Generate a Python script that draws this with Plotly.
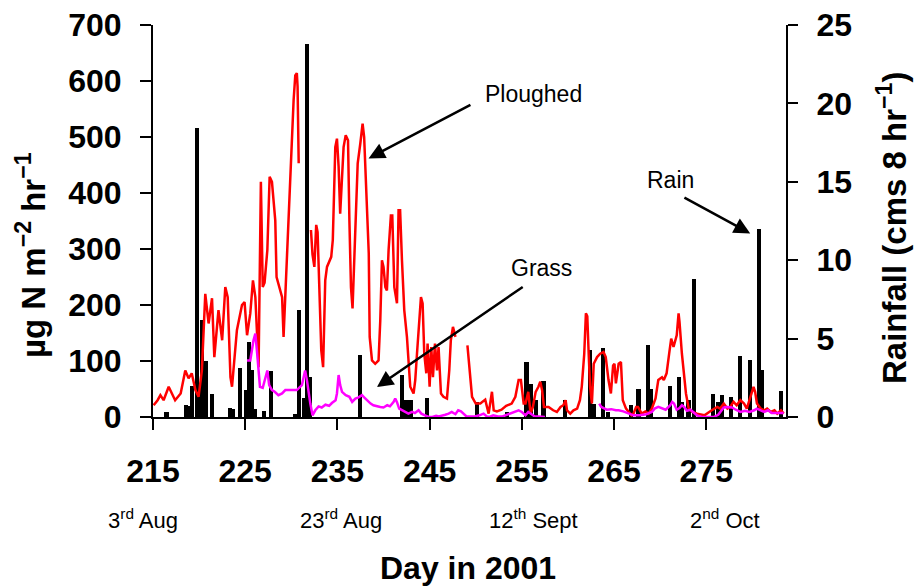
import plotly.graph_objects as go

# ---------------- data ----------------
ploughed_day = [215.07, 215.5, 215.8, 216.15, 216.7, 217.0, 217.4, 218.0, 218.5, 218.86, 219.2, 219.6, 219.94,
                220.3, 220.67, 221.03, 221.4, 221.65, 222.1, 222.5, 222.84, 223.1, 223.4, 223.57, 224.1, 224.65,
                224.93, 225.2, 225.55, 225.84, 226.1, 226.45, 226.7, 226.9, 227.1, 227.4, 227.65, 227.9, 228.26,
                228.4, 228.8, 229.0, 229.16, 229.35, 229.5, 229.9, 230.07, 230.25, 230.43, 230.6, 230.68, 230.8,
                231.5,
                232.13, 232.3, 232.5, 232.7, 232.85, 233.07, 233.25, 233.45, 233.68, 233.87, 234.33, 234.5, 234.77,
                234.95, 235.13, 235.3, 235.5, 235.67, 235.9, 236.15, 236.3, 236.47, 236.64, 236.94, 237.2, 237.48,
                237.73, 237.9, 238.13, 238.4, 238.5, 238.75, 239.1, 239.46, 239.65, 239.83, 240.0, 240.2, 240.37,
                240.55, 240.8, 240.95, 241.17, 241.46, 241.63, 241.8, 242.0, 242.25, 242.54, 242.9, 243.26, 243.44,
                243.63, 243.9, 244.06, 244.24, 244.42, 244.64, 244.78, 245.0, 245.18, 245.36, 245.58, 245.8, 245.97,
                246.23, 246.5, 246.88, 247.13, 247.3, 247.53, 247.8,
                248.5,
                249.1, 249.6, 250.0, 250.5, 251.03, 251.4, 251.76, 251.95, 252.3, 252.8, 253.3, 253.9, 254.3, 254.65,
                254.9, 255.2, 255.4, 255.7, 255.95, 256.2, 256.5, 256.8, 257.0, 257.2, 257.4, 257.9, 258.4, 258.8,
                259.2, 259.5, 259.75, 259.9, 260.25, 260.6, 261.0, 261.3, 261.5, 261.77, 261.95, 262.1, 262.25,
                262.4, 262.6, 262.8, 263.16, 263.5, 263.86, 264.1, 264.4, 264.66, 264.9, 265.05, 265.2, 265.5,
                265.75, 265.95, 266.3, 266.6, 266.9, 267.1, 267.4, 267.6, 268.0, 268.4, 268.75, 269.1, 269.5, 269.8,
                270.2, 270.4, 270.7, 271.0, 271.2, 271.45, 271.6, 271.8, 272.0, 272.1, 272.36, 272.6, 272.8, 273.1,
                273.5, 274.0, 274.8, 275.6, 276.2, 276.5, 276.9, 277.3, 277.6, 277.96, 278.3, 278.7, 279.1, 279.4,
                279.7, 279.95, 280.13, 280.3, 280.5, 280.9, 281.3, 281.6, 282.0, 282.4, 282.7, 283.1, 283.4]
ploughed_flux = [21, 30, 39, 30, 54, 44, 30, 42, 83, 69, 78, 48, 36,
                 83, 220, 167, 212, 107, 191, 137, 232, 214, 71, 54, 155, 200,
                 205, 146, 185, 244, 214, 89, 420, 232, 240, 298, 429, 420, 351,
                 250, 226, 214, 143, 220, 292, 447, 518, 566, 610, 614, 590, 453,
                 None,
                 334, 290, 268, 343, 330, 232, 119, 89, 244, 268, 286, 316, 482,
                 497, 447, 363, 429, 482, 503, 494, 351, 232, 194, 351, 453, 488,
                 524, 500, 411, 292, 143, 101, 95, 101, 173, 280, 268, 232, 226,
                 298, 360, 360, 232, 203, 369, 369, 280, 191, 143, 54, 42, 66,
                 113, 173, 214, 203, 113, 78, 131, 54, 125, 71, 131, 83, 125,
                 42, 36, 33, 83, 137, 161, 143,
                 None,
                 128, 36, 24, 24, 31, 6, 45, 12, 10, 13, 20, 24, 36, 66,
                 66, 24, 24, 45, 6, 18, 45, 54, 63, 48, 18, 18, 12, 9,
                 18, 21, 30, 12, 6, 12, 15, 30, 54, 113, 185, 180, 113,
                 54, 24, 95, 107, 113, 116, 107, 66, 42, 92, 95, 60, 95,
                 98, 30, 15, 9, 3, 6, 18, 18, 6, 10, 6, 15, 33, 66,
                 71, 66, 78, 116, 140, 125, 133, 146, 185, 170, 113, 70, 42, 15,
                 9, 6, 3, 12, 18, 15, 24, 15, 18, 27, 21, 30, 24, 15,
                 30, 45, 54, 45, 24, 15, 12, 15, 9, 12, 6, 12, 6]

grass_day = [225.2, 225.55, 225.9, 226.1, 226.3, 226.45, 226.6, 226.9, 227.2, 227.4, 227.6, 227.9, 228.2, 228.6,
             229.0, 229.35, 229.9, 230.6, 231.15, 231.5, 231.7, 231.85, 232.06, 232.3, 232.6, 232.96, 233.3,
             233.7, 234.1, 234.4, 234.8, 234.95, 235.13, 235.3, 235.5, 235.9, 236.3, 236.6, 236.95, 237.3,
             237.66, 237.9, 238.2, 238.6, 238.9, 239.3, 239.65, 240.0, 240.4, 240.7, 241.1, 241.27, 241.45,
             241.7, 242.0, 242.3, 242.7, 243.1, 243.4, 243.8, 244.1, 244.5, 244.9, 245.3, 245.7, 246.0, 246.4,
             246.7, 247.06, 247.4, 247.8, 248.1, 248.4, 248.7, 249.0, 249.4, 249.9, 250.4, 250.85, 251.2,
             251.5, 251.9, 252.4, 252.9, 253.2, 253.6, 254.0, 254.65, 255.0, 255.4, 255.7, 256.0, 256.4,
             256.8, 257.3, 257.5,
             260.0,
             263.4, 263.6, 264.2, 264.7, 265.2, 265.5, 266.0, 266.6, 267.1, 267.8, 268.5, 269.1, 269.4,
             269.8, 270.2, 270.6, 271.1, 271.3, 271.5, 271.8, 272.1, 272.36, 272.6, 272.9, 273.3, 273.7,
             274.0, 274.5, 275.0, 275.8, 276.3, 276.9, 277.3, 277.8, 278.2, 278.7, 279.2, 279.7, 280.2,
             280.5, 280.9, 281.3, 281.7, 282.1, 282.6, 283.4]
grass_flux = [101, 101, 137, 149, 113, 83, 54, 52, 71, 83, 57, 48, 45, 39,
              42, 48, 48, 48, 57, 83, 65, 45, 24, 3, 12, 19, 17,
              22, 20, 25, 30, 42, 75, 57, 45, 39, 36, 27, 33, 35,
              39, 35, 30, 24, 21, 19, 18, 17, 21, 19, 27, 33, 27,
              15, 12, 9, 6, 9, 7, 12, 6, 3, 0, 0, 2, 1, 2,
              4, 6, 9, 5, 12, 10, 6, 1, 1, 1, 3, 6, 1,
              0, 3, 1, 1, 3, 6, 9, 12, 9, 3, 9, 6, 1,
              1, 0, 0,
              None,
              24, 18, 13, 14, 12, 12, 10, 6, 3, 3, 5, 9, 15,
              18, 15, 13, 21, 27, 24, 13, 16, 21, 18, 11, 13, 7,
              3, 0, 0, 0, 4, 17, 18, 17, 13, 9, 11, 9, 12,
              15, 12, 9, 12, 7, 7, 7]

rain_day = [216.46, 218.6, 218.85, 219.23, 219.78, 220.1, 220.35, 220.75, 221.43, 223.38, 223.7, 224.4, 225.04,
            225.4, 225.75, 226.1, 227.0, 227.83, 230.45, 230.8, 231.33, 231.7, 232.0, 237.45, 242.05, 242.5,
            243.0, 244.75, 250.13, 253.4, 255.5, 256.0, 256.5, 257.35, 259.7, 262.4, 262.8, 263.8, 264.3,
            266.85, 267.66, 268.67, 269.0, 271.1, 272.0, 272.35, 273.07, 273.7, 275.7, 276.3, 276.7, 277.7,
            278.7, 279.7, 280.7, 281.04, 283.1]
rain_cm = [0.32, 0.79, 0.7, 2.0, 18.4, 1.9, 6.2, 3.6, 1.45, 0.6, 0.5, 3.1, 1.7,
           4.8, 3.0, 0.5, 0.4, 2.95, 0.2, 6.85, 1.2, 23.8, 2.55, 3.94, 2.66, 1.06,
           1.06, 1.24, 0.96, 0.3, 3.5, 2.13, 1.06, 2.3, 1.06, 4.25, 0.8, 4.4, 0.3,
           0.75, 1.8, 4.58, 1.8, 1.98, 2.55, 0.96, 1.1, 8.77, 1.49, 0.96, 1.38, 1.28,
           3.87, 3.62, 12.0, 2.98, 1.66]

day_ticks = [215, 225, 235, 245, 255, 265, 275]
flux_ticks = [0, 100, 200, 300, 400, 500, 600, 700]
rain_ticks = [0, 5, 10, 15, 20, 25]
date_labels = ["3<sup>rd</sup> Aug", "23<sup>rd</sup> Aug", "12<sup>th</sup> Sept", "2<sup>nd</sup> Oct"]
date_label_px = [143, 341, 533, 725]   # horizontal centres in the picture

FONT = "Liberation Sans, Arial, sans-serif"
L, R, T, B = 153, 128, 25, 170
PW, PH = 914 - L - R, 587 - T - B

fig = go.Figure()
fig.add_trace(go.Bar(x=rain_day, y=rain_cm, width=0.45, yaxis="y",
                     marker=dict(color="black", line=dict(width=0)), name="Rain"))
fig.add_trace(go.Scatter(x=ploughed_day, y=ploughed_flux, yaxis="y2", mode="lines",
                         line=dict(color="#ff0000", width=2.5), connectgaps=False, name="Ploughed"))
fig.add_trace(go.Scatter(x=grass_day, y=grass_flux, yaxis="y2", mode="lines",
                         line=dict(color="#ff00ff", width=2.5), connectgaps=False, name="Grass"))

tickfont = dict(family=FONT, size=32, color="black", weight="bold")

fig.update_layout(
    width=914, height=587,
    margin=dict(l=L, r=R, t=T, b=B, autoexpand=False),
    paper_bgcolor="white", plot_bgcolor="white",
    showlegend=False,
    xaxis=dict(range=[215, 283.65], tickvals=day_ticks, ticks="outside", ticklen=11, tickwidth=2,
               tickcolor="black", showline=True, linecolor="black", linewidth=2, showgrid=False,
               zeroline=False, tickfont=tickfont, ticklabelstandoff=14, automargin=False),
    yaxis=dict(range=[0, 25], tickvals=rain_ticks, side="right", ticks="outside", ticklen=10, tickwidth=2,
               tickcolor="black", showline=True, linecolor="black", linewidth=2, showgrid=False,
               zeroline=False, tickfont=tickfont, ticklabelstandoff=12, automargin=False),
    yaxis2=dict(range=[0, 700], tickvals=flux_ticks, side="left", overlaying="y", ticks="outside",
                ticklen=11, tickwidth=2, tickcolor="black", showline=True, linecolor="black", linewidth=2,
                showgrid=False, zeroline=False, tickfont=tickfont, ticklabelstandoff=12, automargin=False),
    bargap=0,
)

def px_x(px):
    return (px - L) / PW

def px_y(py):
    return (T + PH - py) / PH

ann = []
# axis titles
ann.append(dict(text="µg N m<sup>−2</sup> hr<sup>−1</sup>", xref="paper", yref="paper",
                x=px_x(31), y=px_y(255), textangle=-90, showarrow=False,
                xanchor="center", yanchor="middle",
                font=dict(family=FONT, size=33, color="black", weight="bold")))
ann.append(dict(text="Rainfall (cms 8 hr<sup>−1</sup>)", xref="paper", yref="paper",
                x=px_x(892), y=px_y(228), textangle=-90, showarrow=False,
                xanchor="center", yanchor="middle",
                font=dict(family=FONT, size=33, color="black", weight="bold")))
ann.append(dict(text="Day in 2001", xref="paper", yref="paper",
                x=px_x(468), y=px_y(568), showarrow=False,
                xanchor="center", yanchor="middle",
                font=dict(family=FONT, size=32, color="black", weight="bold")))
for lab, pos in zip(date_labels, date_label_px):
    ann.append(dict(text=lab, xref="paper", yref="paper", x=px_x(pos), y=px_y(519), showarrow=False,
                    xanchor="center", yanchor="middle",
                    font=dict(family=FONT, size=22, color="black")))

# series labels and arrows
lab_font = dict(family=FONT, size=23, color="black")
ann.append(dict(text="Ploughed", xref="x", yref="y2", x=256.3, y=576, showarrow=False,
                xanchor="center", yanchor="middle", font=lab_font))
ann.append(dict(text="Grass", xref="x", yref="y2", x=257.1, y=266, showarrow=False,
                xanchor="center", yanchor="middle", font=lab_font))
ann.append(dict(text="Rain", xref="x", yref="y2", x=271.1, y=423, showarrow=False,
                xanchor="center", yanchor="middle", font=lab_font))
arrow = dict(showarrow=True, arrowhead=2, arrowsize=1.3, arrowwidth=2.5, arrowcolor="black",
             xref="x", yref="y2", axref="x", ayref="y2", text="", standoff=0)
ann.append(dict(arrow, x=238.38, y=461.8, ax=249.59, ay=558.8))
ann.append(dict(arrow, x=239.29, y=53.6, ax=255.26, ay=234.1))
ann.append(dict(arrow, x=279.77, y=327.7, ax=272.47, ay=393.1))

fig.update_layout(annotations=ann)
fig.write_html("out.html")
